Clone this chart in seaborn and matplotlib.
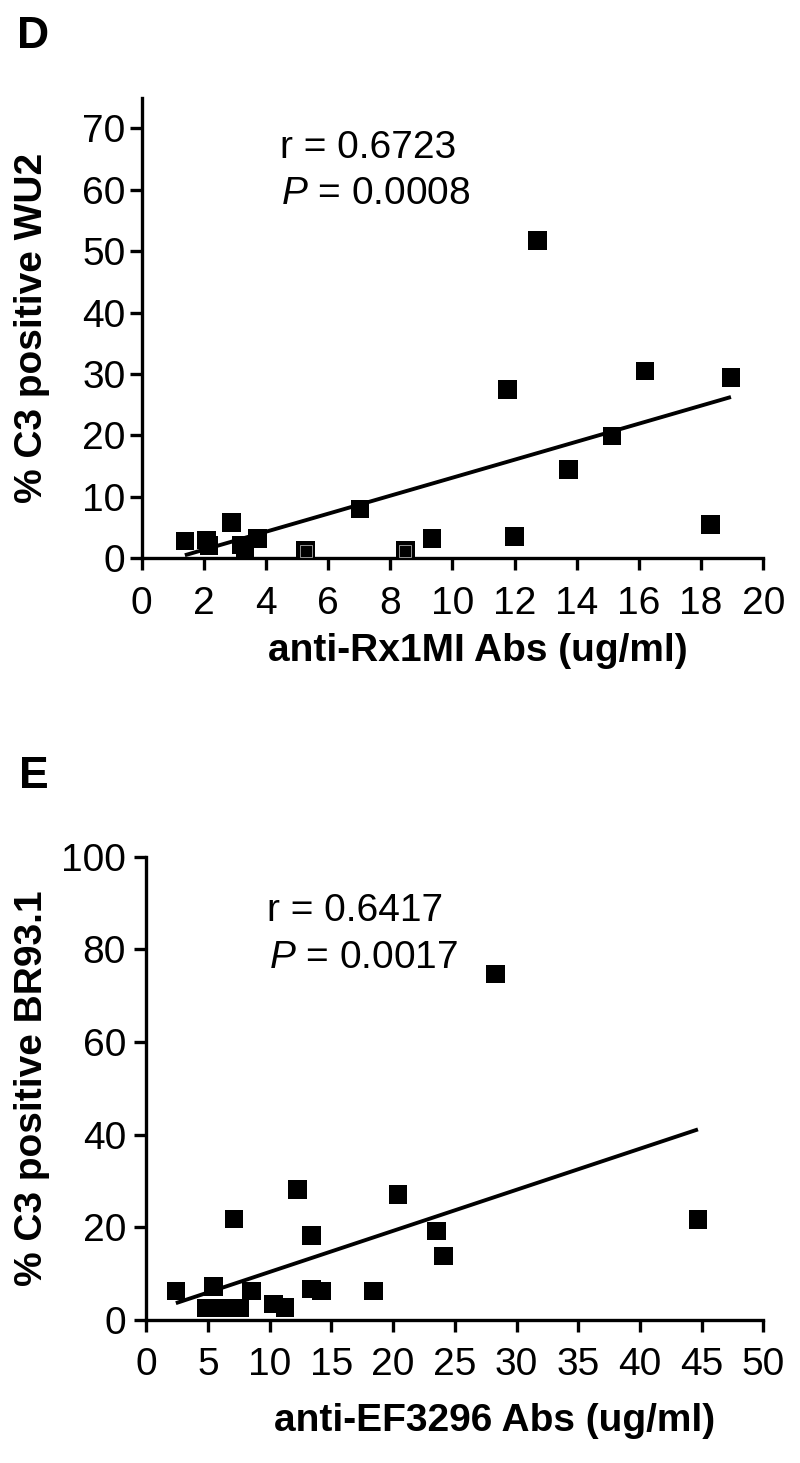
import matplotlib
matplotlib.use('Agg')
import matplotlib.pyplot as plt
import seaborn as sns

# Panel D: anti-Rx1MI Abs vs % C3 positive WU2
d_abs = [1.39, 2.09, 2.17, 2.88, 3.22, 3.32, 3.72, 5.28, 7.02, 8.48, 9.34,
         11.77, 12.0, 12.73, 13.73, 15.13, 16.2, 18.3, 18.96]
d_c3 = [2.84, 2.97, 2.05, 5.85, 2.16, 1.35, 3.19, 1.25, 8.0, 1.25, 3.19,
        27.5, 3.5, 51.8, 14.5, 19.9, 30.5, 5.5, 29.4]
# overlapping points near the baseline (shown with a white rim)
d_ring_abs = [5.28, 8.48]
d_ring_c3 = [1.25, 1.25]
d_xticks = list(range(0, 21, 2))
d_yticks = list(range(0, 71, 10))

# Panel E: anti-EF3296 Abs vs % C3 positive BR93.1
e_abs = [2.4, 5.44, 4.9, 5.15, 6.67, 7.6, 7.1, 8.55, 10.3, 11.25, 12.24,
         13.4, 13.4, 14.2, 18.4, 20.4, 23.54, 24.1, 28.3, 44.7]
e_c3 = [6.3, 7.3, 2.6, 2.6, 2.6, 2.6, 21.8, 6.3, 3.45, 2.7, 28.2,
        18.2, 6.7, 6.3, 6.3, 27.1, 19.2, 13.8, 74.7, 21.7]
e_xticks = list(range(0, 51, 5))
e_yticks = list(range(0, 101, 20))

sns.set_style('ticks')
plt.rcParams['font.family'] = ['Liberation Sans', 'DejaVu Sans']
plt.rcParams['mathtext.fontset'] = 'custom'
plt.rcParams['mathtext.rm'] = 'Liberation Sans'
plt.rcParams['mathtext.it'] = 'Liberation Sans:italic'
plt.rcParams['text.color'] = 'black'
plt.rcParams['axes.labelcolor'] = 'black'
plt.rcParams['xtick.color'] = 'black'
plt.rcParams['ytick.color'] = 'black'

LW = 2.4
TICK_FS = 28
LABEL_FS = 28

fig = plt.figure(figsize=(8, 14.63), dpi=100)
ax_d = fig.add_axes([0.1771, 0.6184, 0.777, 0.3148])
ax_e = fig.add_axes([0.1828, 0.0977, 0.7714, 0.3167])


def draw_panel(ax, xs, ys, xticks, yticks, xlim, ylim, ypad):
    sns.regplot(x=xs, y=ys, ax=ax, scatter=False, ci=None, color='black',
                line_kws={'linewidth': 2.8, 'solid_capstyle': 'butt'})
    sns.scatterplot(x=xs, y=ys, ax=ax, marker='s', s=180, color='black',
                    edgecolor='none', linewidth=0, clip_on=False, zorder=3)
    ax.set_xlim(*xlim)
    ax.set_ylim(*ylim)
    ax.set_xticks(xticks)
    ax.set_yticks(yticks)
    ax.tick_params(axis='both', direction='out', length=8.6, width=LW,
                   labelsize=TICK_FS, color='black', labelcolor='black')
    ax.tick_params(axis='x', pad=11)
    ax.tick_params(axis='y', pad=ypad)
    sns.despine(ax=ax)
    for sp in ('left', 'bottom'):
        ax.spines[sp].set_linewidth(LW)
        ax.spines[sp].set_color('black')
    ax.set_facecolor('white')
    ax.grid(False)


draw_panel(ax_d, d_abs, d_c3, d_xticks, d_yticks, (0, 20), (0, 75), 3)
sns.scatterplot(x=d_ring_abs, y=d_ring_c3, ax=ax_d, marker='s', s=85,
                color='black', edgecolor='white', linewidth=0.4,
                clip_on=False, zorder=4)
ax_d.set_xlabel('anti-Rx1MI Abs (ug/ml)', fontsize=LABEL_FS, fontweight='bold')
ax_d.set_ylabel('% C3 positive WU2', fontsize=LABEL_FS, fontweight='bold')
ax_d.xaxis.set_label_coords(0.5415, -0.163)
ax_d.yaxis.set_label_coords(-0.1475, 0.5)
ax_d.text(4.44, 65.24, 'r = 0.6723', fontsize=TICK_FS, va='baseline')
ax_d.text(4.49, 57.66, r'$\mathit{P}$ = 0.0008', fontsize=TICK_FS, va='baseline')

draw_panel(ax_e, e_abs, e_c3, e_xticks, e_yticks, (0, 50), (0, 100), 6)
ax_e.set_xlabel('anti-EF3296 Abs (ug/ml)', fontsize=LABEL_FS, fontweight='bold')
ax_e.set_ylabel('% C3 positive BR93.1', fontsize=LABEL_FS, fontweight='bold')
ax_e.xaxis.set_label_coords(0.565, -0.18)
ax_e.yaxis.set_label_coords(-0.156, 0.5)
ax_e.text(9.8, 86.1, 'r = 0.6417', fontsize=TICK_FS, va='baseline')
ax_e.text(9.97, 75.9, r'$\mathit{P}$ = 0.0017', fontsize=TICK_FS, va='baseline')

fig.text(17 / 800, 1 - 16 / 1463, 'D', fontsize=32, fontweight='bold',
         ha='left', va='top')
fig.text(19 / 800, 1 - 756 / 1463, 'E', fontsize=32, fontweight='bold',
         ha='left', va='top')

fig.savefig('out.png', dpi=100, facecolor='white')
